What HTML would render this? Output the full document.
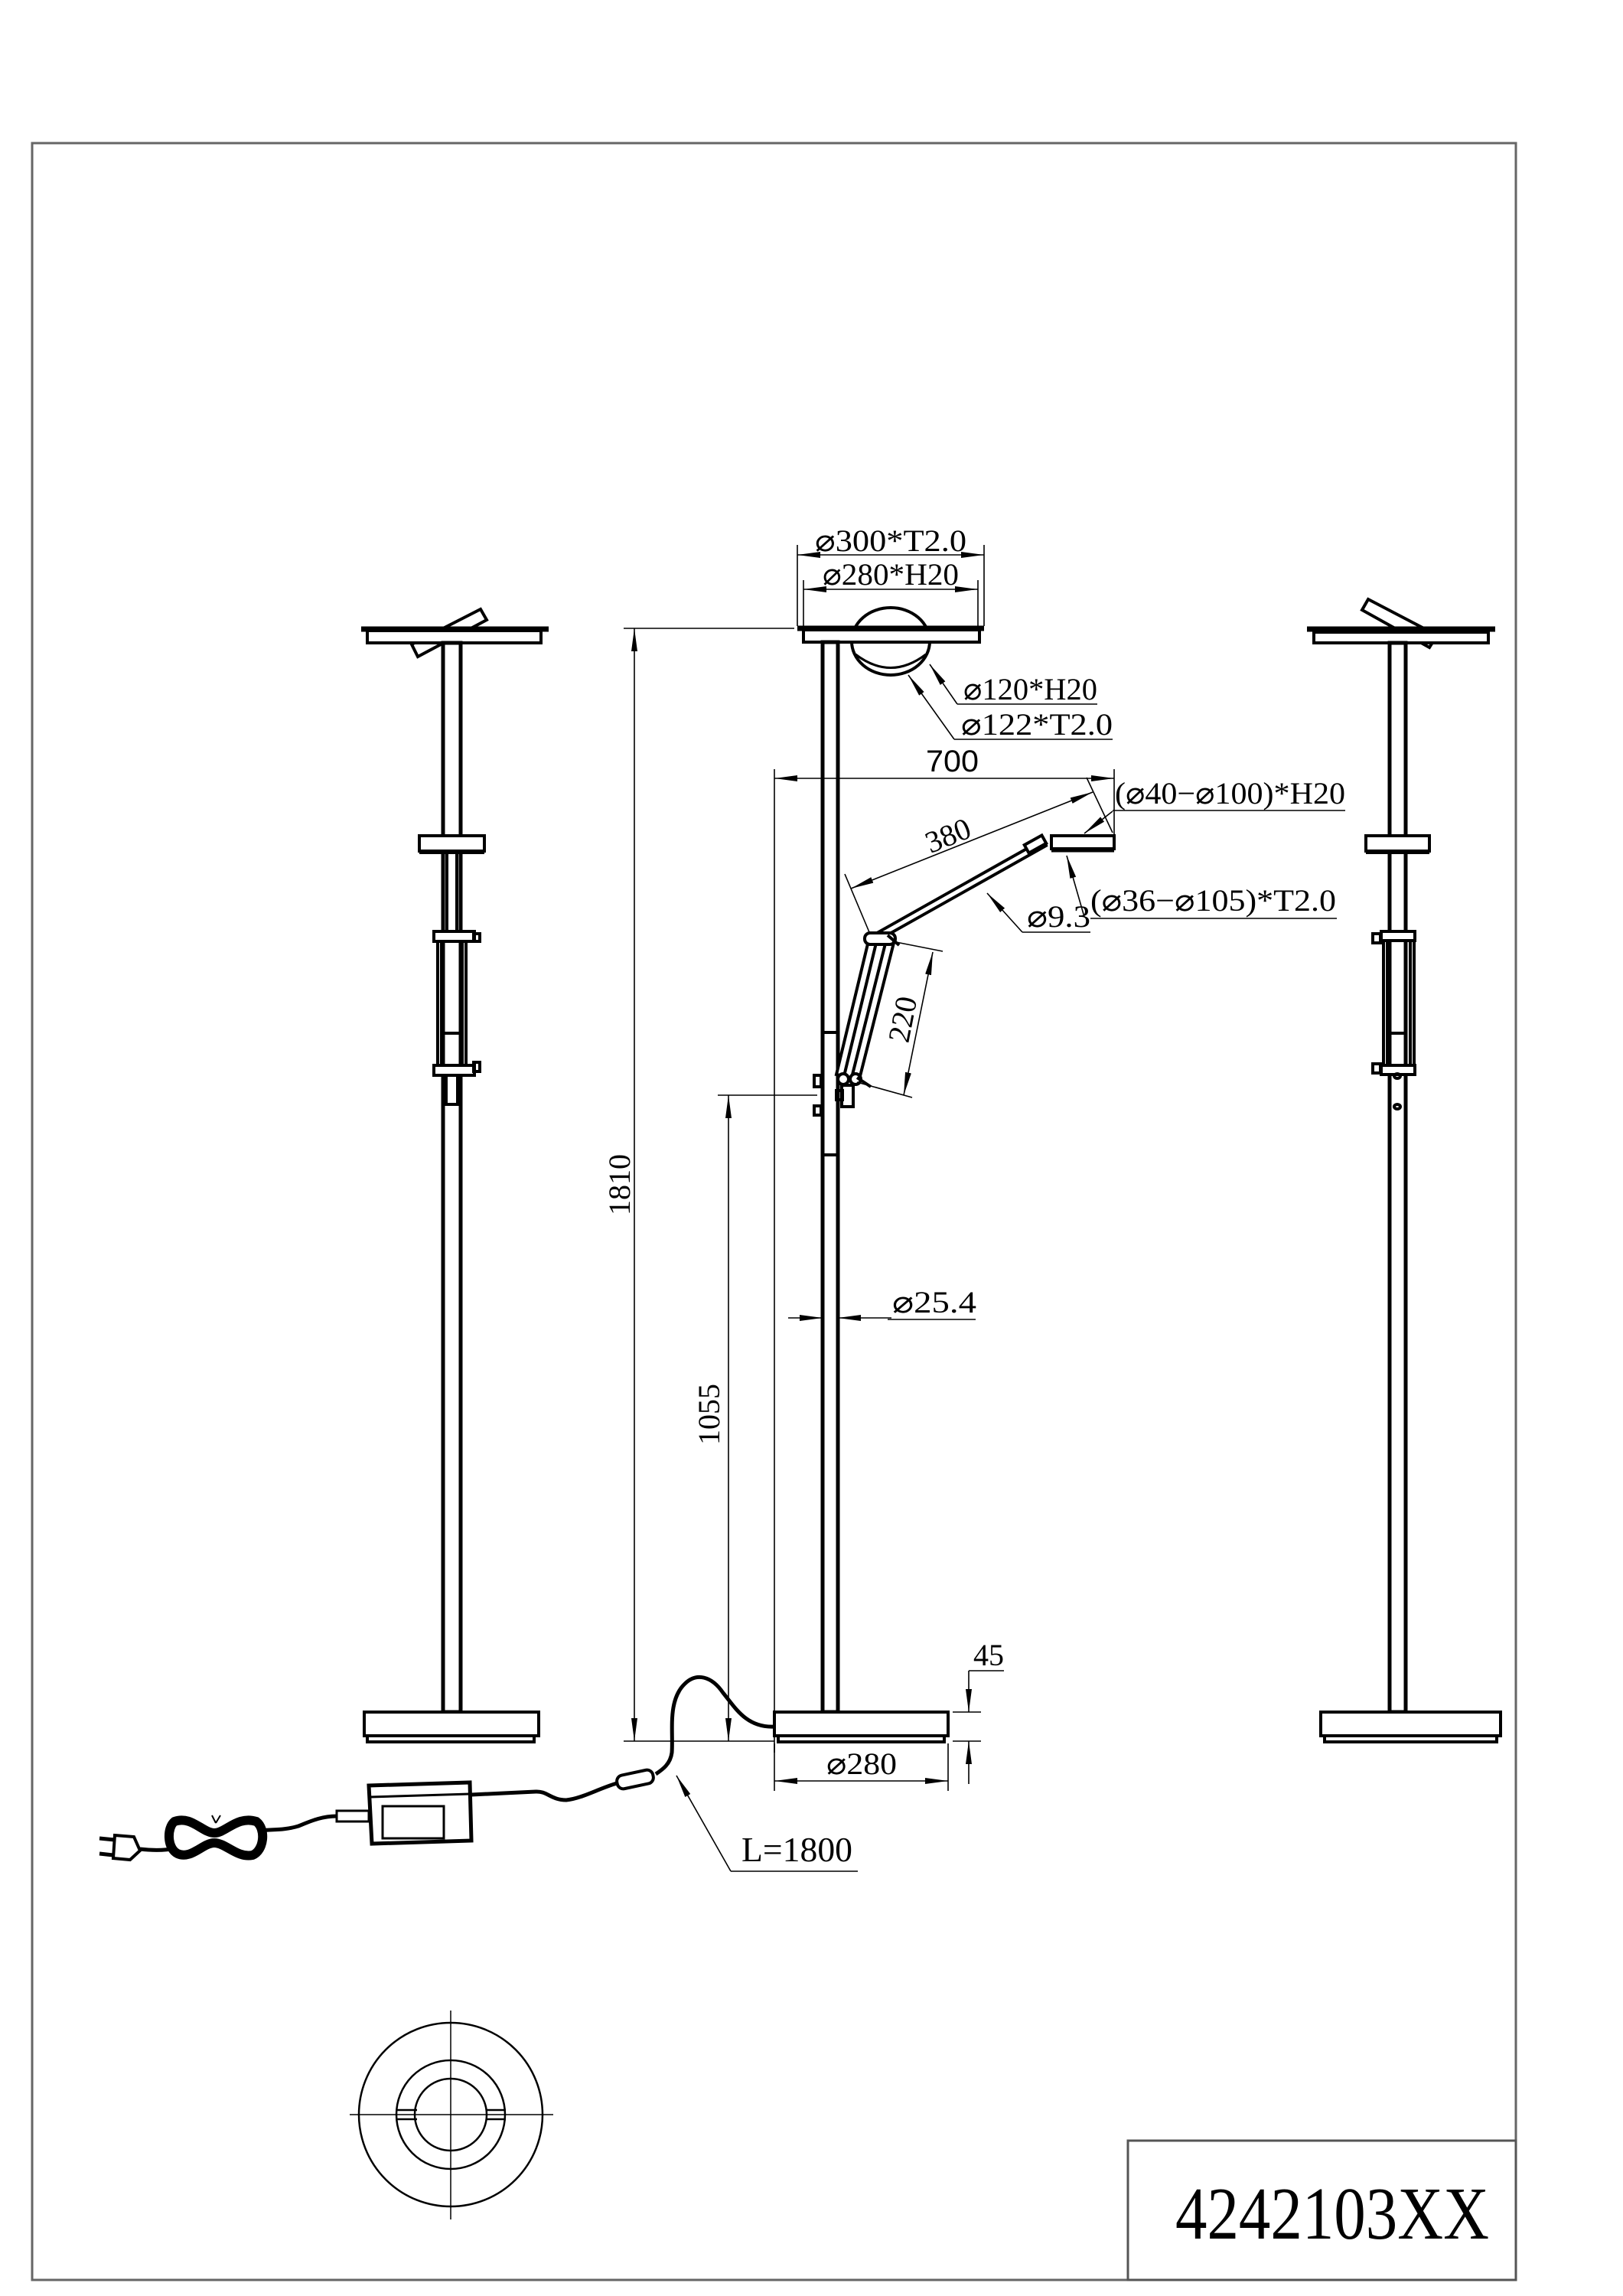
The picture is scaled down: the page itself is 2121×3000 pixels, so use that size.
<!DOCTYPE html>
<html><head><meta charset="utf-8"><style>
html,body{margin:0;padding:0;background:#fff}
svg{display:block}
text{font-family:"Liberation Serif",serif;fill:#000}
.s{font-family:"Liberation Sans",sans-serif}
</style></head><body>
<svg width="2121" height="3000" viewBox="0 0 2121 3000" xmlns="http://www.w3.org/2000/svg">
<defs>
<marker id="a" viewBox="0 0 30 10" refX="30" refY="5" markerWidth="30" markerHeight="10" markerUnits="userSpaceOnUse" orient="auto-start-reverse"><path d="M0,1 L30,5 L0,9 z" fill="#000"/></marker>
</defs>
<rect x="0" y="0" width="2121" height="3000" fill="#fff"/>
<!-- border -->
<rect x="42" y="187" width="1939" height="2792" fill="none" stroke="#666" stroke-width="3"/>
<rect x="1474" y="2797" width="507" height="182" fill="none" stroke="#555" stroke-width="3"/>
<text x="1536" y="2925" font-size="98" textLength="410" lengthAdjust="spacingAndGlyphs">4242103XX</text>

<g stroke="#000" fill="none">
<!-- LEFT LAMP -->
<g stroke-width="4">
<polygon points="538,842 628,796 636,810 546,858" fill="#fff"/>
<line x1="472" y1="822" x2="717" y2="822" stroke-width="7"/>
<rect x="480" y="824" width="227" height="16" fill="#fff"/>
<rect x="579" y="840" width="23" height="1397" fill="#fff" stroke-width="5"/>
<rect x="548" y="1092" width="85" height="20" fill="#fff"/>
<line x1="548" y1="1113" x2="633" y2="1113" stroke-width="6"/>
<rect x="584" y="1113" width="13" height="112"/>
<rect x="567" y="1217" width="53" height="13" fill="#fff"/>
<rect x="619" y="1220" width="8" height="10"/>
<line x1="572" y1="1230" x2="572" y2="1392"/><line x1="577" y1="1230" x2="577" y2="1392"/>
<line x1="604" y1="1230" x2="604" y2="1392"/><line x1="609" y1="1230" x2="609" y2="1392"/>
<line x1="579" y1="1350" x2="602" y2="1350"/>
<rect x="567" y="1392" width="53" height="13" fill="#fff"/>
<rect x="619" y="1388" width="8" height="12"/>
<rect x="583" y="1405" width="15" height="38" fill="#fff"/>
<rect x="476" y="2237" width="228" height="31" fill="#fff"/>
<rect x="480" y="2268" width="218" height="8"/>
</g>

<!-- RIGHT LAMP -->
<g stroke-width="4">
<polygon points="1780,797 1788,783 1878,830 1868,846" fill="#fff"/>
<line x1="1708" y1="822" x2="1954" y2="822" stroke-width="7"/>
<rect x="1717" y="826" width="228" height="14" fill="#fff"/>
<rect x="1816" y="840" width="21" height="1397" fill="#fff" stroke-width="5"/>
<rect x="1785" y="1092" width="83" height="20" fill="#fff"/>
<line x1="1785" y1="1113" x2="1868" y2="1113" stroke-width="6"/>
<rect x="1805" y="1217" width="44" height="12" fill="#fff"/>
<rect x="1794" y="1220" width="10" height="12"/>
<line x1="1808" y1="1229" x2="1808" y2="1392"/><line x1="1813" y1="1229" x2="1813" y2="1392"/>
<line x1="1843" y1="1229" x2="1843" y2="1392"/><line x1="1848" y1="1229" x2="1848" y2="1392"/>
<line x1="1816" y1="1350" x2="1837" y2="1350"/>
<rect x="1805" y="1392" width="44" height="12" fill="#fff"/>
<rect x="1794" y="1390" width="10" height="12"/>
<ellipse cx="1826" cy="1406" rx="4" ry="3"/>
<ellipse cx="1826" cy="1446" rx="4" ry="3"/>
<rect x="1726" y="2237" width="235" height="31" fill="#fff"/>
<rect x="1731" y="2268" width="225" height="8"/>
</g>

<!-- CENTER LAMP -->
<g stroke-width="4">
<ellipse cx="1164" cy="838" rx="51" ry="44" fill="#fff"/>
<path d="M1118,855 Q1164,890 1210,855" stroke-width="3"/>
<line x1="1042" y1="821" x2="1286" y2="821" stroke-width="7"/>
<rect x="1050" y="823" width="230" height="16" fill="#fff"/>
<rect x="1075" y="839" width="20" height="1398" fill="#fff" stroke-width="5"/>
<line x1="1075" y1="1349" x2="1095" y2="1349"/>
<line x1="1075" y1="1509" x2="1095" y2="1509"/>
<rect x="1064" y="1405" width="9" height="15"/>
<rect x="1064" y="1445" width="9" height="12"/>
<!-- lower arm -->
<polygon points="1136,1225 1146,1228 1103,1406 1093,1404" fill="#fff"/>
<polygon points="1159,1225 1169,1228 1123,1410 1113,1408" fill="#fff"/>
<!-- upper arm -->
<polygon points="1139,1223 1363,1097 1367,1105 1143,1231" fill="#fff"/>
<rect x="1340" y="1097" width="26" height="12" transform="rotate(-29 1353 1103)" fill="#fff"/>
<rect x="1130" y="1219" width="40" height="15" rx="7" fill="#fff"/>
<line x1="1160" y1="1222" x2="1175" y2="1235"/>
<circle cx="1102" cy="1410" r="7" fill="#fff"/>
<circle cx="1118" cy="1410" r="7" fill="#fff"/>
<line x1="1120" y1="1408" x2="1138" y2="1420"/>
<rect x="1100" y="1418" width="15" height="28" fill="#fff"/>
<rect x="1093" y="1425" width="8" height="12"/>
<!-- head -->
<rect x="1374" y="1092" width="82" height="17" fill="#fff"/>
<line x1="1374" y1="1111" x2="1456" y2="1111" stroke-width="5"/>
<!-- base -->
<rect x="1012" y="2237" width="227" height="31" fill="#fff"/>
<rect x="1017" y="2268" width="217" height="8"/>
</g>

<!-- dimension lines -->
<g stroke-width="1.6">
<line x1="1042" y1="712" x2="1042" y2="818"/><line x1="1286" y1="712" x2="1286" y2="818"/>
<line x1="1042" y1="725" x2="1286" y2="725" marker-start="url(#a)" marker-end="url(#a)"/>
<line x1="1050" y1="758" x2="1050" y2="820"/><line x1="1278" y1="758" x2="1278" y2="820"/>
<line x1="1050" y1="770" x2="1278" y2="770" marker-start="url(#a)" marker-end="url(#a)"/>
<polyline points="1251,920 1215,868" marker-end="url(#a)"/><line x1="1251" y1="920" x2="1434" y2="920"/>
<polyline points="1247,966 1187,882" marker-end="url(#a)"/><line x1="1247" y1="966" x2="1454" y2="966"/>
<!-- 700 -->
<line x1="1012" y1="1017" x2="1456" y2="1017" marker-start="url(#a)" marker-end="url(#a)"/>
<line x1="1012" y1="1005" x2="1012" y2="2290"/>
<line x1="1456" y1="1005" x2="1456" y2="1090"/>
<polyline points="1454,1060 1417,1089" marker-end="url(#a)"/><line x1="1454" y1="1059" x2="1758" y2="1059"/>
<!-- 380 -->
<line x1="1112" y1="1161" x2="1428" y2="1035" marker-start="url(#a)" marker-end="url(#a)"/>
<line x1="1104" y1="1142" x2="1136" y2="1218"/>
<line x1="1420" y1="1016" x2="1454" y2="1088"/>
<polyline points="1336,1218 1290,1167" marker-end="url(#a)"/><line x1="1336" y1="1218" x2="1425" y2="1218"/>
<polyline points="1417,1198 1394,1118" marker-end="url(#a)"/><line x1="1425" y1="1200" x2="1747" y2="1200"/>
<!-- 220 -->
<line x1="1219" y1="1244" x2="1181" y2="1431" marker-start="url(#a)" marker-end="url(#a)"/>
<line x1="1166" y1="1230" x2="1232" y2="1243"/>
<line x1="1120" y1="1414" x2="1192" y2="1434"/>
<!-- 1055 -->
<line x1="938" y1="1431" x2="1068" y2="1431"/>
<line x1="952" y1="1431" x2="952" y2="2275" marker-start="url(#a)" marker-end="url(#a)"/>
<!-- 1810 -->
<line x1="815" y1="821" x2="1038" y2="821"/>
<line x1="829" y1="821" x2="829" y2="2275" marker-start="url(#a)" marker-end="url(#a)"/>
<line x1="815" y1="2275" x2="1012" y2="2275"/>
<!-- 25.4 -->
<line x1="1030" y1="1722" x2="1075" y2="1722" marker-end="url(#a)"/>
<line x1="1165" y1="1722" x2="1095" y2="1722" marker-end="url(#a)"/>
<line x1="1160" y1="1724" x2="1275" y2="1724"/>
<!-- 45 / 280 -->
<line x1="1245" y1="2237" x2="1282" y2="2237"/>
<line x1="1245" y1="2275" x2="1282" y2="2275"/>
<line x1="1266" y1="2183" x2="1312" y2="2183"/>
<line x1="1266" y1="2183" x2="1266" y2="2237" marker-end="url(#a)"/>
<line x1="1266" y1="2331" x2="1266" y2="2275" marker-end="url(#a)"/>
<line x1="1012" y1="2278" x2="1012" y2="2340"/><line x1="1239" y1="2278" x2="1239" y2="2340"/>
<line x1="1012" y1="2327" x2="1239" y2="2327" marker-start="url(#a)" marker-end="url(#a)"/>
<!-- L=1800 -->
<polyline points="955,2445 884,2320" marker-end="url(#a)"/><line x1="955" y1="2445" x2="1121" y2="2445"/>
</g>

<!-- cable -->
<g stroke-width="5">
<path d="M1012,2256 C975,2258 960,2230 945,2212 C930,2190 910,2185 895,2200 C872,2222 880,2262 878,2290 C876,2305 866,2312 857,2318"/>
<rect x="806" y="2316" width="48" height="18" rx="8" transform="rotate(-12 830 2325)" fill="#fff" stroke-width="4"/>
<path d="M806,2330 C780,2338 760,2350 740,2352 C720,2352 715,2340 700,2341 L616,2345"/>
<polygon points="482,2333 614,2329 616,2405 486,2409" fill="#fff" stroke-width="5"/>
<line x1="484" y1="2348" x2="614" y2="2344" stroke-width="3"/>
<rect x="500" y="2360" width="80" height="42" stroke-width="3"/>
<rect x="440" y="2366" width="42" height="14" stroke-width="3"/>
<path d="M440,2373 C420,2373 405,2380 390,2386 C370,2392 355,2390 339,2392"/>
<path d="M228,2380 C250,2372 265,2395 280,2395 C295,2395 310,2372 335,2380 C348,2390 345,2418 330,2424 C310,2428 295,2408 280,2408 C265,2408 250,2430 232,2422 C218,2415 218,2388 228,2380 Z" stroke-width="12"/>
<path d="M282,2382 L277,2372 M282,2382 L288,2372" stroke-width="2"/>
<path d="M230,2415 C215,2418 200,2418 183,2416"/>
<polygon points="150,2398 175,2400 183,2418 170,2430 148,2428" fill="#fff" stroke-width="4"/>
<line x1="130" y1="2402" x2="150" y2="2404" stroke-width="5"/>
<line x1="130" y1="2422" x2="148" y2="2424" stroke-width="5"/>
</g>

<!-- top view -->
<g stroke-width="2.5">
<circle cx="589" cy="2763" r="120"/>
<circle cx="589" cy="2763" r="71"/>
<circle cx="589" cy="2763" r="47"/>
<line x1="457" y1="2763" x2="723" y2="2763" stroke-width="1.5"/>
<line x1="589" y1="2627" x2="589" y2="2900" stroke-width="1.5"/>
<line x1="518" y1="2757" x2="545" y2="2757"/><line x1="518" y1="2769" x2="545" y2="2769"/>
<line x1="636" y1="2757" x2="661" y2="2757"/><line x1="636" y1="2769" x2="661" y2="2769"/>
</g>
</g>

<!-- labels -->
<g font-size="40">
<text x="1065" y="720" textLength="198" lengthAdjust="spacingAndGlyphs">⌀300*T2.0</text>
<text x="1075" y="764" textLength="178" lengthAdjust="spacingAndGlyphs">⌀280*H20</text>
<text x="1259" y="914" textLength="175" lengthAdjust="spacingAndGlyphs">⌀120*H20</text>
<text x="1256" y="960" textLength="198" lengthAdjust="spacingAndGlyphs">⌀122*T2.0</text>
<text class="s" x="1210" y="1008" textLength="69" lengthAdjust="spacingAndGlyphs">700</text>
<text x="1457" y="1050" textLength="301" lengthAdjust="spacingAndGlyphs">(⌀40−⌀100)*H20</text>
<text x="1239" y="1105" text-anchor="middle" transform="rotate(-22 1239 1092)">380</text>
<text x="1342" y="1211" textLength="83" lengthAdjust="spacingAndGlyphs">⌀9.3</text>
<text x="1425" y="1190" textLength="321" lengthAdjust="spacingAndGlyphs">(⌀36−⌀105)*T2.0</text>
<text x="1180" y="1345" text-anchor="middle" transform="rotate(-79 1180 1332)">220</text>
<text x="942" y="1874" text-anchor="middle" transform="rotate(-90 928 1862)">1055</text>
<text x="824" y="1575" text-anchor="middle" transform="rotate(-90 810 1562)">1810</text>
<text x="1166" y="1715" textLength="110" lengthAdjust="spacingAndGlyphs">⌀25.4</text>
<text x="1272" y="2176" textLength="40" lengthAdjust="spacingAndGlyphs">45</text>
<text x="1080" y="2318" textLength="92" lengthAdjust="spacingAndGlyphs">⌀280</text>
<text x="969" y="2432" font-size="46" textLength="145" lengthAdjust="spacingAndGlyphs">L=1800</text>
</g>
</svg>
</body></html>
